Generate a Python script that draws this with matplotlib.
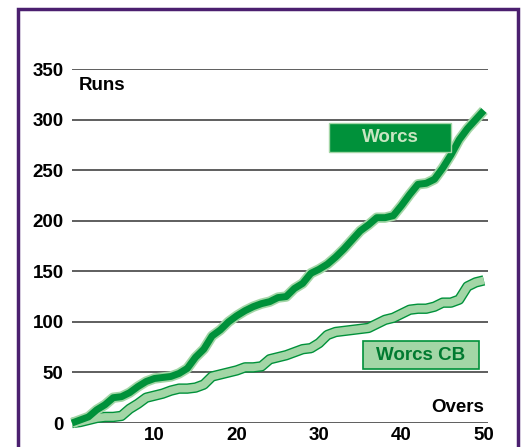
import matplotlib
matplotlib.use("Agg")
import matplotlib.pyplot as plt
import matplotlib.patheffects as pe
from matplotlib.patches import Rectangle

plt.rcParams['font.family'] = ['Liberation Sans', 'DejaVu Sans']

# data
overs = list(range(0, 51))
worcs = [0, 3, 6, 13, 18, 25, 26, 30, 36, 41,
         44, 45, 46, 49, 54, 65, 73, 86, 92, 100,
         106, 111, 115, 118, 120, 124, 125, 133, 138, 148,
         152, 157, 164, 172, 181, 190, 196, 203, 203, 205,
         215, 226, 236, 237, 241, 252, 265, 280, 291, 300,
         309]
worcs_cb = [0, 1, 3, 5, 6, 6, 7, 14, 19, 25,
            27, 29, 32, 34, 34, 35, 38, 46, 48, 50,
            52, 55, 55, 56, 63, 65, 67, 70, 73, 74,
            79, 87, 90, 91, 92, 93, 94, 98, 102, 104,
            108, 112, 113, 113, 115, 119, 119, 122, 135, 139,
            141]
y_ticks = [0, 50, 100, 150, 200, 250, 300, 350]
x_ticks = [10, 20, 30, 40, 50]

DARK = '#00913a'
LIGHT = '#a3d6a6'
TEXT_LIGHT = '#c8e6c2'
PURPLE = '#4b1f6f'
FS = 13.5

W, H = 523, 447
fig = plt.figure(figsize=(W / 100, H / 100), dpi=100)
ax = fig.add_axes([72 / W, (H - 423) / H, 416 / W, 354 / H])
ax.set_xlim(0, 50.5)
ax.set_ylim(0, 350)

for s in ax.spines.values():
    s.set_visible(False)

ax.set_yticks(y_ticks)
ax.set_xticks(x_ticks)
ax.tick_params(length=0, labelsize=FS)
ax.tick_params(axis='y', pad=6)
ax.tick_params(axis='x', pad=3)
for lbl in ax.get_xticklabels() + ax.get_yticklabels():
    lbl.set_fontweight('bold')
ax.yaxis.grid(True, color='#333333', linewidth=1.1)
ax.set_axisbelow(True)

# Worcs CB line: light fill with dark outline
ax.plot(overs, worcs_cb, color=LIGHT, linewidth=5.5, clip_on=False,
        solid_joinstyle='round', solid_capstyle='butt',
        path_effects=[pe.Stroke(linewidth=7.5, foreground=DARK), pe.Normal()])

# Worcs line: dark with light halo
ax.plot(overs, worcs, color=DARK, linewidth=5, clip_on=False,
        solid_joinstyle='round', solid_capstyle='butt',
        path_effects=[pe.Stroke(linewidth=7.5, foreground=LIGHT), pe.Normal()])

ax.text(0.8, 334, 'Runs', fontsize=FS, fontweight='bold', va='center', ha='left')
ax.text(50, 15, 'Overs', fontsize=FS, fontweight='bold', va='center', ha='right')

# label boxes
fig.add_artist(Rectangle((329 / W, 1 - 152 / H), 122 / W, 29 / H,
                         transform=fig.transFigure, facecolor=DARK,
                         edgecolor=LIGHT, linewidth=1))
fig.text(390 / W, 1 - 137 / H, 'Worcs', color=TEXT_LIGHT, fontsize=FS,
         fontweight='bold', ha='center', va='center')

fig.add_artist(Rectangle((363 / W, 1 - 369 / H), 116 / W, 28 / H,
                         transform=fig.transFigure, facecolor=LIGHT,
                         edgecolor=DARK, linewidth=1.2))
fig.text(421 / W, 1 - 355 / H, 'Worcs CB', color='#007a30', fontsize=FS,
         fontweight='bold', ha='center', va='center')

# purple frame
fig.add_artist(Rectangle((17.5 / W, -0.1), 500 / W, 1.1 - 9 / H,
                         transform=fig.transFigure, facecolor='none',
                         edgecolor=PURPLE, linewidth=2.5, clip_on=False))

fig.savefig('out.png', dpi=100)
